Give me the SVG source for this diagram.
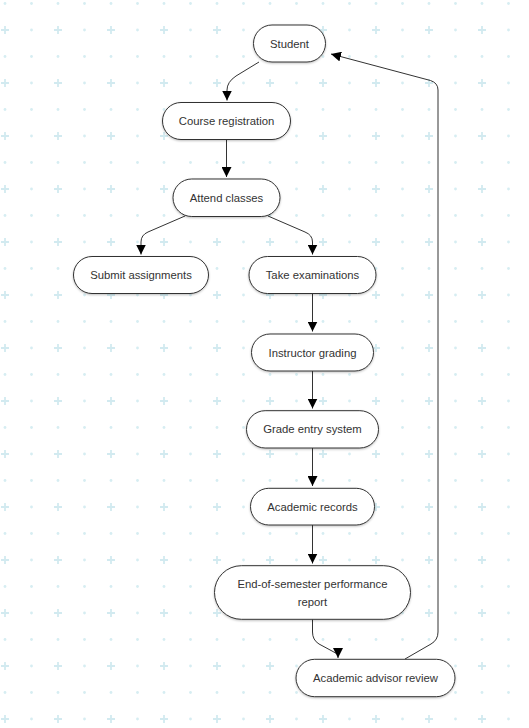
<svg xmlns="http://www.w3.org/2000/svg" width="529" height="728" viewBox="0 0 529 728">
  <defs>
    <pattern id="bg" width="53" height="53" patternUnits="userSpaceOnUse">
      <circle cx="5" cy="3.5" r="1.4" fill="#d6edf2"/>
      <circle cx="31.5" cy="3.5" r="1.4" fill="#d6edf2"/>
      <circle cx="31.5" cy="30" r="1.4" fill="#d6edf2"/>
      <path d="M1,30 H9 M5,26 V34" stroke="#d2eaf0" stroke-width="1.8"/>
    </pattern>
    <marker id="arrow" viewBox="0 0 10 10" refX="10" refY="5" markerWidth="10" markerHeight="10" markerUnits="userSpaceOnUse" orient="auto">
      <path d="M0,0 L10,5 L0,10 z" fill="#000"/>
    </marker>
    <filter id="sh" x="-10%" y="-20%" width="120%" height="150%">
      <feDropShadow dx="0" dy="1" stdDeviation="0.8" flood-color="#000" flood-opacity="0.25"/>
    </filter>
    <style>
      .node rect { fill: #fff; stroke: #333; stroke-width: 1; filter: url(#sh); }
      .node text { font-family: "Liberation Sans", Arial, sans-serif; font-size: 11.3px; fill: #333; text-anchor: middle; dominant-baseline: central; }
      .edges path { fill: none; stroke: #333; stroke-width: 1; marker-end: url(#arrow); }
    </style>
  </defs>
  <rect width="529" height="728" fill="#fff"/>
  <rect width="529" height="728" fill="url(#bg)"/>

  <g class="edges" id="connectors">
    <path d="M259,62 L236,76 Q227,82 227,90 L227,100.5"/>
    <path d="M226.5,139.5 L226.5,177"/>
    <path d="M185,216 L148,232 Q141,235 141,242 L141,254.5"/>
    <path d="M268,216 L305,232 Q312.5,235 312.5,242 L312.5,254.5"/>
    <path d="M312.5,293.5 L312.5,331.5"/>
    <path d="M312.5,370.7 L312.5,408.5"/>
    <path d="M312.5,448 L312.5,486"/>
    <path d="M312.5,525 L312.5,563.5"/>
    <path d="M312.5,619.3 L312.5,632 Q312.5,640 319,644 L332,651 Q338,654 338,655 L338,658"/>
    <path d="M405,659 L431,644 Q438,640 438,632 L438,90 Q438,83 430.5,80.5 L331,54"/>
  </g>

  <g class="node" id="student">
    <rect x="253.5" y="25" width="72" height="37" rx="18.5"/>
    <text x="289.5" y="43.5">Student</text>
  </g>
  <g class="node" id="course-registration">
    <rect x="162.5" y="102.5" width="128" height="37" rx="18.5"/>
    <text x="226.5" y="121">Course registration</text>
  </g>
  <g class="node" id="attend-classes">
    <rect x="173" y="179" width="107" height="37.5" rx="18.75"/>
    <text x="226.5" y="198">Attend classes</text>
  </g>
  <g class="node" id="submit-assignments">
    <rect x="73.5" y="256.5" width="135" height="37" rx="18.5"/>
    <text x="141" y="275">Submit assignments</text>
  </g>
  <g class="node" id="take-examinations">
    <rect x="249" y="256.5" width="127" height="37" rx="18.5"/>
    <text x="312.5" y="275">Take examinations</text>
  </g>
  <g class="node" id="instructor-grading">
    <rect x="251.5" y="334" width="122" height="37" rx="18.5"/>
    <text x="312.5" y="352.5">Instructor grading</text>
  </g>
  <g class="node" id="grade-entry-system">
    <rect x="246.5" y="410.7" width="132" height="37.3" rx="18.6"/>
    <text x="312.5" y="429.3">Grade entry system</text>
  </g>
  <g class="node" id="academic-records">
    <rect x="250.5" y="488.3" width="124" height="36.7" rx="18.3"/>
    <text x="312.5" y="506.7">Academic records</text>
  </g>
  <g class="node" id="end-of-semester-report">
    <rect x="214.5" y="565.7" width="196" height="53.6" rx="26.8"/>
    <text x="312.5" y="584">End-of-semester performance</text>
    <text x="312.5" y="601.5">report</text>
  </g>
  <g class="node" id="academic-advisor-review">
    <rect x="296" y="659.3" width="159" height="37.4" rx="18.7"/>
    <text x="375.5" y="678">Academic advisor review</text>
  </g>
</svg>
